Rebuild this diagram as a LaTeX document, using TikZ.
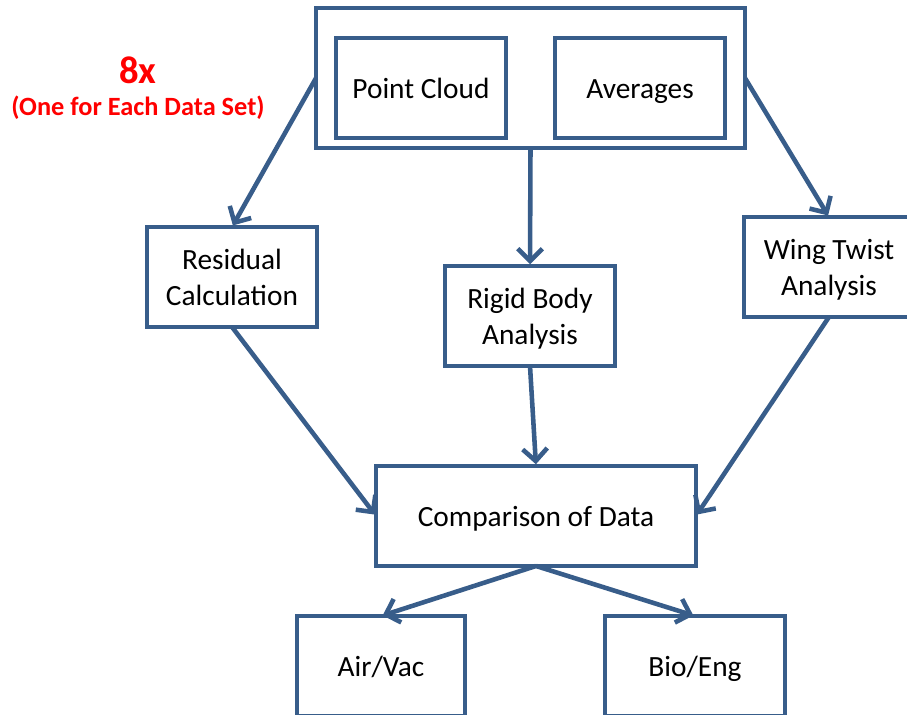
\documentclass[tikz,border=0pt]{standalone}
\usepackage{fontspec}
\setmainfont{Carlito}
\usepackage{tikz}
\usetikzlibrary{arrows.meta, positioning}
\definecolor{myblue}{RGB}{56,93,138}
\definecolor{myred}{RGB}{255,0,0}
\newcommand{\bstrut}{\rule[-4.2pt]{0pt}{20pt}}
\tikzset{
  box/.style={rectangle, draw=myblue, fill=white, line width=1.9pt,
    minimum width=3.4cm, minimum height=2cm, align=center,
    outer sep=0pt, inner sep=2pt, font=\fontsize{16.7}{20.4}\selectfont},
  arrow/.style={-{Straight Barb[length=7pt,width=14pt]}, line width=2.6pt,
    color=myblue, shorten >=1pt}
}

\begin{document}
\begin{tikzpicture}[x=0.02cm, y=-0.02cm]

  % page frame
  \useasboundingbox (0,0) rectangle (907,715);

  % Input group
  \node[box, minimum width=8.58cm, minimum height=2.8cm] (group) at (530.5,78) {};
  \node[box] (cloud) at (421,88) {Point Cloud\bstrut};
  \node[box] (avg) at (640,88) {Averages\bstrut};

  % Red note
  \node[text=myred, font=\bfseries\fontsize{22}{26}\selectfont] (count) at (138,70) {8x};
  \node[text=myred, font=\bfseries\fontsize{15}{18}\selectfont] (note) at (138,108) {(One for Each Data Set)};

  % Analysis steps
  \node[box] (resid) at (232,277) {Residual\bstrut\\Calculation\bstrut};
  \node[box] (rigid) at (530,316) {Rigid Body\bstrut\\Analysis\bstrut};
  \node[box] (wing) at (829,267) {Wing Twist\bstrut\\Analysis\bstrut};

  % Comparison and outputs
  \node[box, minimum width=6.4cm] (comp) at (536,516) {Comparison of Data\bstrut};
  \node[box, minimum width=3.36cm] (air) at (381,666) {Air/Vac\bstrut};
  \node[box, minimum width=3.6cm] (bio) at (695,666) {Bio/Eng\bstrut};

  % Connections
  \draw[arrow] (group.west) -- (resid.north);
  \draw[arrow] (group.south) -- (rigid.north);
  \draw[arrow] (group.east) -- (wing.north);
  \draw[arrow] (resid.south) -- (comp.west);
  \draw[arrow] (rigid.south) -- (comp.north);
  \draw[arrow] (wing.south) -- (comp.east);
  \draw[arrow] (comp.south) -- (air.north);
  \draw[arrow] (comp.south) -- (bio.north);

\end{tikzpicture}
\end{document}
